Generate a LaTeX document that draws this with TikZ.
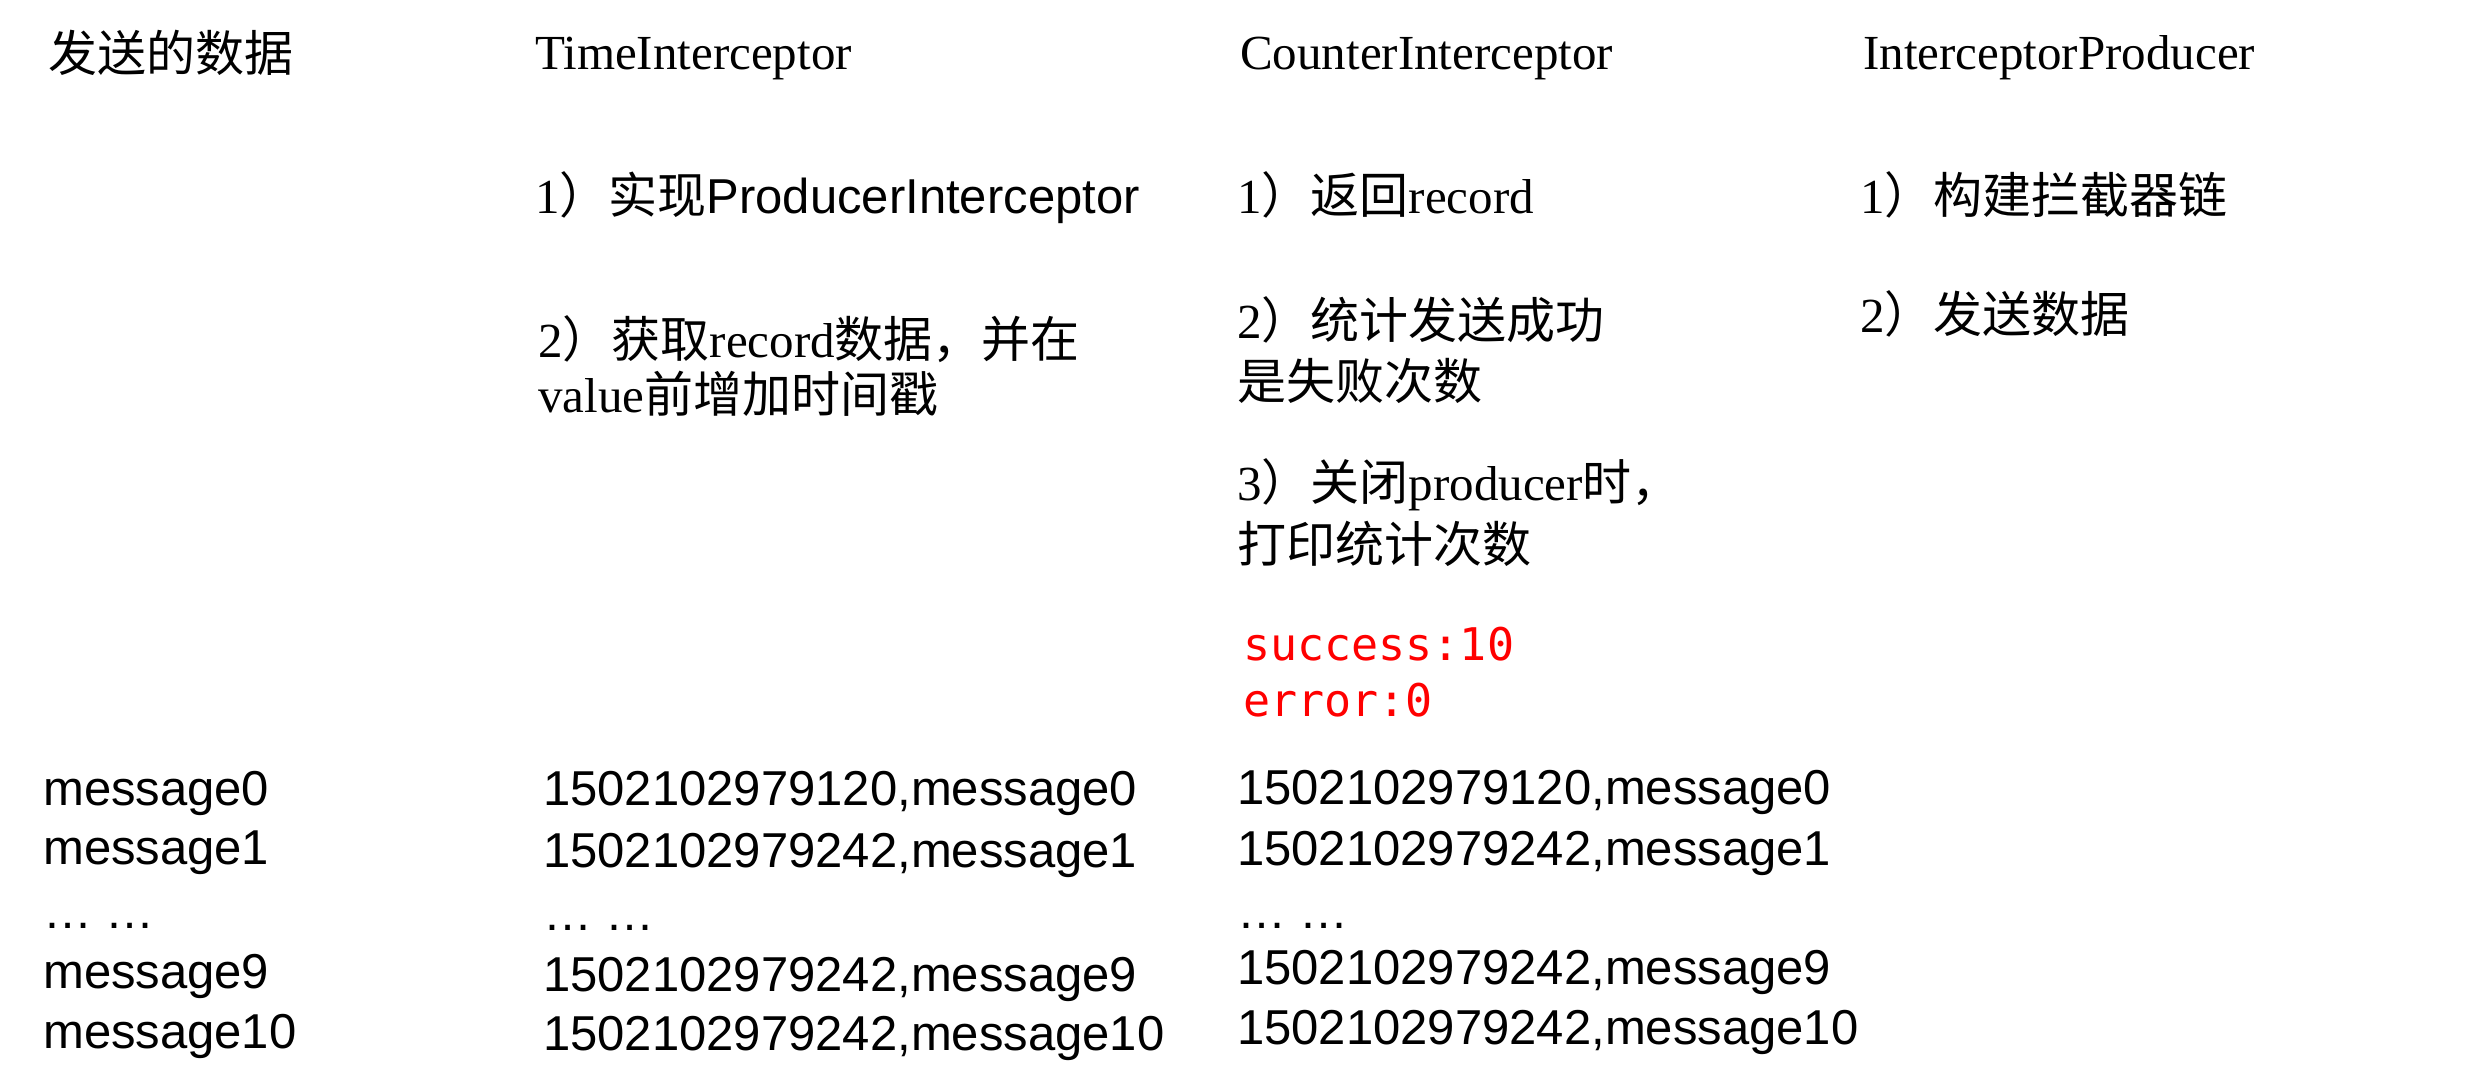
\documentclass[tikz,border=0pt]{standalone}
\usepackage{fontspec}
\setmainfont{Liberation Serif}
\newfontfamily\cjk{Noto Sans CJK SC}
\newfontfamily\arialf{Liberation Sans}
\newfontfamily\monof{DejaVu Sans Mono}
\definecolor{codered}{RGB}{255,0,0}
\begin{document}
\begin{tikzpicture}[x=1pt,y=-1pt,
  txt/.style={anchor=base west,inner sep=0pt,font=\fontsize{49pt}{58pt}\selectfont},
  zh/.style={txt,font=\fontsize{49pt}{58pt}\selectfont\cjk},
  msg/.style={txt,font=\fontsize{49pt}{58pt}\selectfont\arialf},
  code/.style={anchor=base west,inner sep=0pt,text=codered,font=\fontsize{45pt}{54pt}\selectfont\monof}]
\fill[white] (0,0) rectangle (2484,1081);
\useasboundingbox (0,0) rectangle (2484,1081);
% headers
\node[zh]  (h1) at (48,72)   {发送的数据};
\node[txt] (h2) at (535,70)  {TimeInterceptor};
\node[txt] (h3) at (1240,70) {CounterInterceptor};
\node[txt] (h4) at (1863,70) {InterceptorProducer};
% TimeInterceptor column
\node[txt] (t1) at (535,213) {1{\cjk ）实现}{\arialf ProducerInterceptor}};
\node[txt] (t2) at (538,357) {2{\cjk ）获取}record{\cjk 数据，并在}};
\node[txt] (t3) at (538,412) {value{\cjk 前增加时间戳}};
% CounterInterceptor column
\node[txt] (c1) at (1237,213) {1{\cjk ）返回}record};
\node[txt] (c2) at (1237,338) {2{\cjk ）统计发送成功}};
\node[zh]  (c3) at (1237,399) {是失败次数};
\node[txt] (c4) at (1237,500) {3{\cjk ）关闭}producer{\cjk 时，}};
\node[zh]  (c5) at (1237,562) {打印统计次数};
\node[code] (s1) at (1243,660) {success:10};
\node[code] (s2) at (1243,716) {error:0};
% InterceptorProducer column
\node[txt] (p1) at (1860,213) {1{\cjk ）构建拦截器链}};
\node[txt] (p2) at (1860,332) {2{\cjk ）发送数据}};
% data rows
\node[msg] (m0) at (43,805)  {message0};
\node[msg] (m1) at (43,864)  {message1};
\node[msg] (md) at (43,928)  {…\ …};
\node[msg] (m9) at (43,988)  {message9};
\node[msg] (m10) at (43,1048) {message10};
\node[msg] (a0) at (543,805)  {1502102979120,message0};
\node[msg] (a1) at (543,867)  {1502102979242,message1};
\node[msg] (ad) at (543,930)  {…\ …};
\node[msg] (a9) at (543,991)  {1502102979242,message9};
\node[msg] (a10) at (543,1050) {1502102979242,message10};
\node[msg] (b0) at (1237,804)  {1502102979120,message0};
\node[msg] (b1) at (1237,865)  {1502102979242,message1};
\node[msg] (bd) at (1237,928)  {…\ …};
\node[msg] (b9) at (1237,984)  {1502102979242,message9};
\node[msg] (b10) at (1237,1044) {1502102979242,message10};
\end{tikzpicture}
\end{document}
